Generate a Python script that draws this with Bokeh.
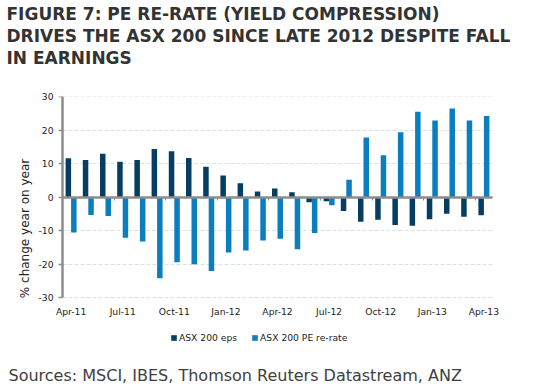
import numpy as np
from bokeh.plotting import figure
from bokeh.models import (ColumnDataSource, Range1d, FixedTicker, Legend,
                          LegendItem, Title, LinearAxis)
from bokeh.transform import dodge
from bokeh.embed import file_html
from bokeh.resources import INLINE

# ---- data ----
months = ["Apr-11", "May-11", "Jun-11", "Jul-11", "Aug-11", "Sep-11", "Oct-11",
          "Nov-11", "Dec-11", "Jan-12", "Feb-12", "Mar-12", "Apr-12", "May-12",
          "Jun-12", "Jul-12", "Aug-12", "Sep-12", "Oct-12", "Nov-12", "Dec-12",
          "Jan-13", "Feb-13", "Mar-13", "Apr-13"]
eps = [11.6, 11.1, 13.0, 10.6, 11.1, 14.4, 13.7, 11.7, 9.1, 6.5, 4.2, 1.7, 2.6,
       1.5, -1.5, -1.2, -4.1, -7.3, -6.7, -8.3, -8.5, -6.6, -4.9, -5.8, -5.4]
pe_rerate = [-10.5, -5.3, -5.6, -12.1, -13.2, -24.2, -19.4, -20.0, -22.0, -16.5,
             -15.9, -12.9, -12.4, -15.5, -10.7, -2.4, 5.2, 17.8, 12.5, 19.4,
             25.5, 22.9, 26.5, 22.9, 24.2]
tick_labels = ["Apr-11", "Jul-11", "Oct-11", "Jan-12", "Apr-12", "Jul-12",
               "Oct-12", "Jan-13", "Apr-13"]
y_ticks = [-30, -20, -10, 0, 10, 20, 30]

title_lines = ["FIGURE 7: PE RE-RATE (YIELD COMPRESSION)",
               "DRIVES THE ASX 200 SINCE LATE 2012 DESPITE FALL",
               "IN EARNINGS"]
source_text = "Sources: MSCI, IBES, Thomson Reuters Datastream, ANZ"

DARK = "#063E62"
LIGHT = "#0A7EBF"
AXIS_GREY = "#8c8c8c"
FONT = "DejaVu Sans"

# view extents: a little room left/right of the bars for edge labels, and a
# strip below the bars that holds the month labels and the legend
X_LO, X_HI = -0.407, 25.465
Y_LO, Y_HI = -48.7, 30.05

n = len(months)
src = ColumnDataSource(dict(x=np.arange(n) + 0.5, month=months,
                            eps=eps, pe=pe_rerate))

p = figure(width=545, height=392, x_range=Range1d(X_LO, X_HI),
           y_range=Range1d(Y_LO, Y_HI), output_backend="svg",
           toolbar_location=None, min_border_left=55, min_border_right=45,
           min_border_top=96, min_border_bottom=10, outline_line_color=None,
           background_fill_color="white", border_fill_color="white")

r1 = p.vbar(x=dodge("x", -0.16, range=p.x_range), top="eps", width=0.32,
            source=src, fill_color=DARK, line_color=None)
r2 = p.vbar(x=dodge("x", 0.16, range=p.x_range), top="pe", width=0.32,
            source=src, fill_color=LIGHT, line_color=None)

# ---- y axis: labels in the left panel ----
p.yaxis.ticker = FixedTicker(ticks=y_ticks)
p.yaxis.major_label_overrides = {t: str(t) for t in y_ticks}
p.yaxis.axis_label = "% change year on year"
p.yaxis.axis_label_text_font = FONT
p.yaxis.axis_label_text_font_size = "12px"
p.yaxis.axis_label_text_font_style = "normal"
p.yaxis.axis_label_text_color = "#222222"
p.yaxis.axis_label_standoff = 3
p.yaxis.axis_line_color = None
p.yaxis.major_tick_line_color = None
p.yaxis.minor_tick_line_color = None
p.yaxis.major_tick_out = 0
p.yaxis.minor_tick_out = 0
p.yaxis.major_label_standoff = 2
p.yaxis.major_label_text_font = FONT
p.yaxis.major_label_text_font_size = "9.2px"
p.yaxis.major_label_text_color = "#222222"

# ---- y axis line + ticks at the start of the data ----
yline = LinearAxis(ticker=FixedTicker(ticks=y_ticks), fixed_location=0,
                   bounds=(-30, 30), axis_line_color=AXIS_GREY,
                   axis_line_width=2.5, major_tick_line_color=AXIS_GREY,
                   major_tick_line_width=1.5, major_tick_out=4, major_tick_in=0,
                   minor_tick_line_color=None,
                   major_label_overrides={t: "" for t in y_ticks})
p.add_layout(yline, "left")

# ---- zero line as an axis with quarter tick marks ----
q_bounds = [months.index(l) for l in tick_labels]
zline = LinearAxis(ticker=FixedTicker(ticks=q_bounds), fixed_location=0,
                   bounds=(0, n), axis_line_color=AXIS_GREY, axis_line_width=2.5,
                   major_tick_line_color=AXIS_GREY, major_tick_out=3,
                   major_tick_in=0, minor_tick_line_color=None,
                   major_label_overrides={t: "" for t in q_bounds})
p.add_layout(zline, "below")

# ---- x axis labels, pinned just under the -30 line ----
tick_pos = [months.index(l) + 0.5 for l in tick_labels]
p.xaxis[0].ticker = FixedTicker(ticks=tick_pos)
p.xaxis[0].fixed_location = -32
p.xaxis[0].major_label_overrides = {t: l for t, l in zip(tick_pos, tick_labels)}
p.xaxis[0].axis_line_color = None
p.xaxis[0].major_tick_line_color = None
p.xaxis[0].minor_tick_line_color = None
p.xaxis[0].major_tick_out = 0
p.xaxis[0].minor_tick_out = 0
p.xaxis[0].major_label_standoff = 1
p.xaxis[0].major_label_text_font = FONT
p.xaxis[0].major_label_text_font_size = "9.2px"
p.xaxis[0].major_label_text_color = "#222222"

# ---- grid ----
p.xgrid.grid_line_color = None
p.ygrid.ticker = FixedTicker(ticks=y_ticks)
p.ygrid.grid_line_color = "#d8e2e2"
p.ygrid.grid_line_width = 1
p.ygrid.grid_line_dash = "4 2"
for g in p.ygrid:
    if "cross_bounds" in g.properties():
        g.cross_bounds = (0, n)
    if "bounds" in g.properties():
        g.bounds = (-30, 30)

# ---- legend inside the lower strip ----
legend = Legend(items=[LegendItem(label="ASX 200 eps", renderers=[r1]),
                       LegendItem(label="ASX 200 PE re-rate", renderers=[r2])],
                orientation="horizontal", location=(115, 16.6),
                glyph_width=7, glyph_height=7, label_height=9,
                label_standoff=2, spacing=14, padding=1, margin=0,
                border_line_color=None, background_fill_alpha=0,
                label_text_font=FONT, label_text_font_size="9.2px",
                label_text_color="#222222")
p.add_layout(legend, "center")

# ---- blank spacer between the title block and the plot area ----
p.add_layout(Title(text=" ", align="left", standoff=6.5, text_font=FONT,
                   text_font_size="17px", text_color="#ffffff"), "above")

# ---- title lines: first added sits closest to the plot ----
for line in reversed(title_lines):
    p.add_layout(Title(text=line, align="left", offset=-49, standoff=0,
                       text_font=FONT, text_font_size="17px",
                       text_font_style="bold", text_color="#333333"), "above")

# ---- source note ----
p.add_layout(Title(text=source_text, align="left", offset=-47, standoff=10.5,
                   vertical_align="top", text_font=FONT, text_font_size="16px",
                   text_font_style="normal", text_color="#404040"), "below")

open("out.html", "w").write(file_html(p, INLINE))
